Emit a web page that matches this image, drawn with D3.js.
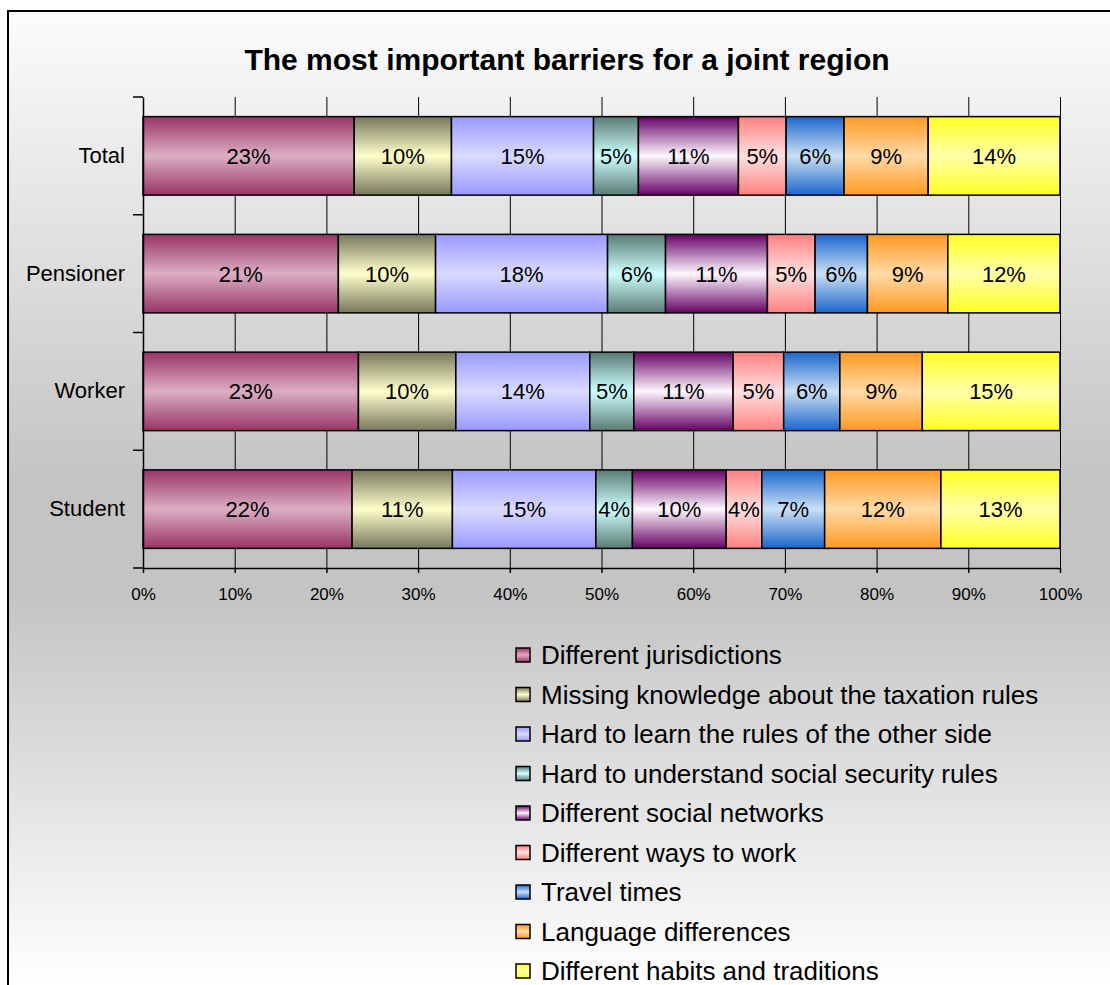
<!DOCTYPE html>
<html>
<head>
<meta charset="utf-8">
<script src="https://cdn.jsdelivr.net/npm/d3@7"></script>
<style>
  body { margin: 0; background: #fff; }
  text { font-family: "Liberation Sans", Arial, sans-serif; fill: #000; }
</style>
</head>
<body>
<div id="container"></div>
<script>
let w = 1110;
let h = 985;

// data (percent of respondents, each row sums to ~98)
let categories = ["Total", "Pensioner", "Worker", "Student"];
let barriers = [
  "Different jurisdictions",
  "Missing knowledge about the taxation rules",
  "Hard to learn the rules of the other side",
  "Hard to understand social security rules",
  "Different social networks",
  "Different ways to work",
  "Travel times",
  "Language differences",
  "Different habits and traditions"
];
let totalValues     = [22.6, 10.4, 15.2, 4.8, 10.7, 5.1, 6.2, 9.0, 14.1];
let pensionerValues = [20.9, 10.4, 18.4, 6.2, 10.9, 5.1, 5.6, 8.6, 12.0];
let workerValues    = [23.0, 10.4, 14.3, 4.7, 10.6, 5.4, 6.0, 8.8, 14.7];
let studentValues   = [22.3, 10.7, 15.3, 3.9, 10.0, 3.8, 6.7, 12.4, 12.7];
let xTicks = [0, 0.1, 0.2, 0.3, 0.4, 0.5, 0.6, 0.7, 0.8, 0.9, 1];

// gradient colours: edge colour, centre colour
let edgeColors   = ["#993366", "#77775c", "#9999ff", "#5a7a74", "#660066", "#ff8080", "#1a66cc", "#ff9922", "#ffff22"];
let centerColors = ["#dcaec4", "#ffffcc", "#dadaff", "#ccffff", "#fff8ff", "#ffe0e0", "#cce0f5", "#ffdaa6", "#ffffaa"];

let valuesByCat = [totalValues, pensionerValues, workerValues, studentValues];
let rows = categories.map((c, i) => {
  let r = {category: c};
  barriers.forEach((b, j) => r[b] = valuesByCat[i][j]);
  return r;
});

let viz = d3.select("#container")
  .append("svg")
    .attr("width", w)
    .attr("height", h)
;

let defs = viz.append("defs");

let bg = defs.append("linearGradient")
    .attr("id", "bg")
    .attr("gradientUnits", "userSpaceOnUse")
    .attr("x1", 0).attr("y1", 11)
    .attr("x2", 0).attr("y2", 985);
bg.append("stop").attr("offset", 0).attr("stop-color", "#fcfcfc");
bg.append("stop").attr("offset", 0.48).attr("stop-color", "#c4c4c4");
bg.append("stop").attr("offset", 0.6).attr("stop-color", "#c4c4c4");
bg.append("stop").attr("offset", 1).attr("stop-color", "#ffffff");

barriers.forEach((b, i) => {
  let g = defs.append("linearGradient")
      .attr("id", "grad" + i)
      .attr("x1", 0).attr("y1", 0)
      .attr("x2", 0).attr("y2", 1);
  g.append("stop").attr("offset", 0).attr("stop-color", edgeColors[i]);
  g.append("stop").attr("offset", 0.5).attr("stop-color", centerColors[i]);
  g.append("stop").attr("offset", 1).attr("stop-color", edgeColors[i]);
});

// chart area
viz.append("rect")
    .attr("x", 8)
    .attr("y", 11)
    .attr("width", 1130)
    .attr("height", 1000)
    .attr("fill", "url(#bg)")
    .attr("stroke", "#000")
    .attr("stroke-width", 2)
;

viz.append("text")
    .attr("x", 567)
    .attr("y", 70)
    .attr("text-anchor", "middle")
    .style("font-size", "30px")
    .style("font-weight", "bold")
    .text("The most important barriers for a joint region")
;

let plotLeft = 143, plotRight = 1060, plotTop = 97, plotBottom = 568;

let x = d3.scaleLinear().domain([0, 1]).range([plotLeft, plotRight]);
let y = d3.scaleBand().domain(categories).range([plotTop, plotBottom])
    .paddingInner(1 / 3).paddingOuter(1 / 6);

// gridlines
viz.append("g")
    .attr("class", "grid")
    .attr("transform", "translate(0," + plotBottom + ")")
    .call(d3.axisBottom(x).tickValues(xTicks.slice(1)).tickSize(-(plotBottom - plotTop)).tickFormat(""))
    .call(g => g.select(".domain").remove())
    .call(g => g.selectAll("line").attr("stroke", "#000").attr("stroke-width", 1))
;

let stack = d3.stack().keys(barriers).offset(d3.stackOffsetExpand);
let series = stack(rows);

let layers = viz.selectAll(".layer").data(series).enter()
  .append("g")
    .attr("class", "layer")
    .attr("fill", (d, i) => "url(#grad" + i + ")")
;

layers.selectAll("rect").data(d => d).enter()
  .append("rect")
    .attr("x", d => x(d[0]))
    .attr("y", d => y(d.data.category))
    .attr("width", d => x(d[1]) - x(d[0]))
    .attr("height", y.bandwidth())
    .attr("stroke", "#000")
    .attr("stroke-width", 1.5)
;

layers.each(function(s) {
  d3.select(this).selectAll("text").data(s).enter()
    .append("text")
      .attr("x", d => (x(d[0]) + x(d[1])) / 2)
      .attr("y", d => y(d.data.category) + y.bandwidth() / 2)
      .attr("dy", "0.36em")
      .attr("text-anchor", "middle")
      .attr("fill", "#000")
      .style("font-size", "22px")
      .text(d => Math.round(d.data[s.key]) + "%");
});

// x axis
viz.append("g")
    .attr("transform", "translate(0," + plotBottom + ")")
    .call(d3.axisBottom(x).tickValues(xTicks).tickSize(5).tickSizeOuter(0).tickPadding(15).tickFormat(d3.format(".0%")))
    .call(g => g.select(".domain").attr("stroke", "#000").attr("stroke-width", 1.5))
    .call(g => g.selectAll("line").attr("stroke", "#000").attr("stroke-width", 1.5))
    .call(g => g.selectAll("text").style("font-size", "17px").attr("fill", "#000").style("font-family", "'Liberation Sans', Arial, sans-serif"))
;

// y axis
viz.append("g")
    .attr("transform", "translate(" + plotLeft + ",0)")
    .call(d3.axisLeft(y).tickSize(0).tickPadding(18).tickSizeOuter(0))
    .call(g => g.select(".domain").attr("stroke", "#000").attr("stroke-width", 1.5))
    .call(g => g.selectAll("text").style("font-size", "22px").attr("fill", "#000").style("font-family", "'Liberation Sans', Arial, sans-serif"))
;

// category boundary ticks
let gap = (y.step() - y.bandwidth()) / 2;
let boundaries = categories.map(c => y(c) - gap).concat([plotBottom]);
viz.selectAll(".ctick").data(boundaries).enter()
  .append("line")
    .attr("x1", plotLeft - 10)
    .attr("x2", plotLeft)
    .attr("y1", d => d)
    .attr("y2", d => d)
    .attr("stroke", "#000")
    .attr("stroke-width", 1.5)
;

// legend
let ly = d3.scalePoint().domain(barriers).range([655, 971]);
let legend = viz.selectAll(".legend").data(barriers).enter()
  .append("g")
    .attr("class", "legend")
    .attr("transform", d => "translate(516," + ly(d) + ")")
;
legend.append("rect")
    .attr("x", 0)
    .attr("y", -7)
    .attr("width", 14)
    .attr("height", 14)
    .attr("fill", (d, i) => "url(#grad" + i + ")")
    .attr("stroke", "#000")
    .attr("stroke-width", 1.5)
;
legend.append("text")
    .attr("x", 25)
    .attr("dy", "0.36em")
    .style("font-size", "26px")
    .text(d => d)
;
</script>
</body>
</html>
